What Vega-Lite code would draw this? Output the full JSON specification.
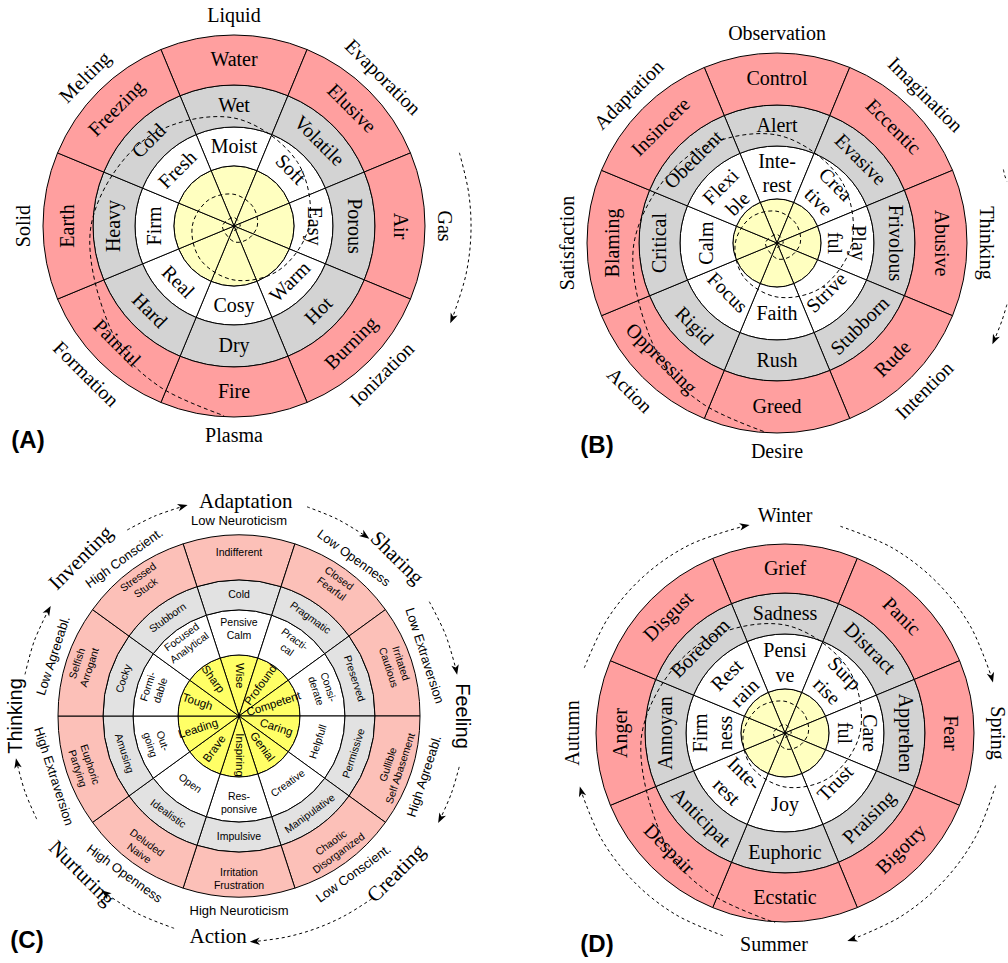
{
"$schema":"https://vega.github.io/schema/vega-lite/v6.json",
"padding":0,
"background":"white",
"config":{"view":{"stroke":null}},
"columns":2,
"spacing":{"row":17,"column":84},
"bounds":"flush",
"align":"each",
"resolve":{"scale":{"color":"independent","angle":"independent"}},
"datasets":{
"sa":[
{"ring":"Y","t":0,"t0":-22.5,"t1":22.5,"r0":0,"r1":1,"rl":0.5,"lab":""},
{"ring":"Y","t":45,"t0":22.5,"t1":67.5,"r0":0,"r1":1,"rl":0.5,"lab":""},
{"ring":"Y","t":90,"t0":67.5,"t1":112.5,"r0":0,"r1":1,"rl":0.5,"lab":""},
{"ring":"Y","t":135,"t0":112.5,"t1":157.5,"r0":0,"r1":1,"rl":0.5,"lab":""},
{"ring":"Y","t":180,"t0":157.5,"t1":202.5,"r0":0,"r1":1,"rl":0.5,"lab":""},
{"ring":"Y","t":225,"t0":202.5,"t1":247.5,"r0":0,"r1":1,"rl":0.5,"lab":""},
{"ring":"Y","t":270,"t0":247.5,"t1":292.5,"r0":0,"r1":1,"rl":0.5,"lab":""},
{"ring":"Y","t":315,"t0":292.5,"t1":337.5,"r0":0,"r1":1,"rl":0.5,"lab":""},
{"ring":"W","t":0,"t0":-22.5,"t1":22.5,"r0":1,"r1":2,"rl":1.5,"lab":"Moist"},
{"ring":"W","t":45,"t0":22.5,"t1":67.5,"r0":1,"r1":2,"rl":1.5,"lab":"Soft"},
{"ring":"W","t":90,"t0":67.5,"t1":112.5,"r0":1,"r1":2,"rl":1.5,"lab":"Easy"},
{"ring":"W","t":135,"t0":112.5,"t1":157.5,"r0":1,"r1":2,"rl":1.5,"lab":"Warm"},
{"ring":"W","t":180,"t0":157.5,"t1":202.5,"r0":1,"r1":2,"rl":1.5,"lab":"Cosy"},
{"ring":"W","t":225,"t0":202.5,"t1":247.5,"r0":1,"r1":2,"rl":1.5,"lab":"Real"},
{"ring":"W","t":270,"t0":247.5,"t1":292.5,"r0":1,"r1":2,"rl":1.5,"lab":"Firm"},
{"ring":"W","t":315,"t0":292.5,"t1":337.5,"r0":1,"r1":2,"rl":1.5,"lab":"Fresh"},
{"ring":"G","t":0,"t0":-22.5,"t1":22.5,"r0":2,"r1":3,"rl":2.5,"lab":"Wet"},
{"ring":"G","t":45,"t0":22.5,"t1":67.5,"r0":2,"r1":3,"rl":2.5,"lab":"Volatile"},
{"ring":"G","t":90,"t0":67.5,"t1":112.5,"r0":2,"r1":3,"rl":2.5,"lab":"Porous"},
{"ring":"G","t":135,"t0":112.5,"t1":157.5,"r0":2,"r1":3,"rl":2.5,"lab":"Hot"},
{"ring":"G","t":180,"t0":157.5,"t1":202.5,"r0":2,"r1":3,"rl":2.5,"lab":"Dry"},
{"ring":"G","t":225,"t0":202.5,"t1":247.5,"r0":2,"r1":3,"rl":2.5,"lab":"Hard"},
{"ring":"G","t":270,"t0":247.5,"t1":292.5,"r0":2,"r1":3,"rl":2.5,"lab":"Heavy"},
{"ring":"G","t":315,"t0":292.5,"t1":337.5,"r0":2,"r1":3,"rl":2.5,"lab":"Cold"},
{"ring":"R","t":0,"t0":-22.5,"t1":22.5,"r0":3,"r1":4,"rl":3.5,"lab":"Water"},
{"ring":"R","t":45,"t0":22.5,"t1":67.5,"r0":3,"r1":4,"rl":3.5,"lab":"Elusive"},
{"ring":"R","t":90,"t0":67.5,"t1":112.5,"r0":3,"r1":4,"rl":3.5,"lab":"Air"},
{"ring":"R","t":135,"t0":112.5,"t1":157.5,"r0":3,"r1":4,"rl":3.5,"lab":"Burning"},
{"ring":"R","t":180,"t0":157.5,"t1":202.5,"r0":3,"r1":4,"rl":3.5,"lab":"Fire"},
{"ring":"R","t":225,"t0":202.5,"t1":247.5,"r0":3,"r1":4,"rl":3.5,"lab":"Painful"},
{"ring":"R","t":270,"t0":247.5,"t1":292.5,"r0":3,"r1":4,"rl":3.5,"lab":"Earth"},
{"ring":"R","t":315,"t0":292.5,"t1":337.5,"r0":3,"r1":4,"rl":3.5,"lab":"Freezing"},
{"ring":"O","t":0,"rl":5,"lab":"Liquid"},
{"ring":"O","t":45,"rl":5,"lab":"Evaporation"},
{"ring":"O","t":90,"rl":5,"lab":"Gas"},
{"ring":"O","t":135,"rl":5,"lab":"Ionization"},
{"ring":"O","t":180,"rl":5,"lab":"Plasma"},
{"ring":"O","t":225,"rl":5,"lab":"Formation"},
{"ring":"O","t":270,"rl":5,"lab":"Solid"},
{"ring":"O","t":315,"rl":5,"lab":"Melting"}
],
"sb":[
{"ring":"Y","t":0,"t0":-22.5,"t1":22.5,"r0":0,"r1":1,"rl":0.5,"lab":""},
{"ring":"Y","t":45,"t0":22.5,"t1":67.5,"r0":0,"r1":1,"rl":0.5,"lab":""},
{"ring":"Y","t":90,"t0":67.5,"t1":112.5,"r0":0,"r1":1,"rl":0.5,"lab":""},
{"ring":"Y","t":135,"t0":112.5,"t1":157.5,"r0":0,"r1":1,"rl":0.5,"lab":""},
{"ring":"Y","t":180,"t0":157.5,"t1":202.5,"r0":0,"r1":1,"rl":0.5,"lab":""},
{"ring":"Y","t":225,"t0":202.5,"t1":247.5,"r0":0,"r1":1,"rl":0.5,"lab":""},
{"ring":"Y","t":270,"t0":247.5,"t1":292.5,"r0":0,"r1":1,"rl":0.5,"lab":""},
{"ring":"Y","t":315,"t0":292.5,"t1":337.5,"r0":0,"r1":1,"rl":0.5,"lab":""},
{"ring":"W","t":0,"t0":-22.5,"t1":22.5,"r0":1,"r1":2,"rl":1.7,"lab":"Inte-\nrest"},
{"ring":"W","t":45,"t0":22.5,"t1":67.5,"r0":1,"r1":2,"rl":1.72,"lab":"Crea\ntive"},
{"ring":"W","t":90,"t0":67.5,"t1":112.5,"r0":1,"r1":2,"rl":1.7,"lab":"Play\nful"},
{"ring":"W","t":135,"t0":112.5,"t1":157.5,"r0":1,"r1":2,"rl":1.5,"lab":"Strive"},
{"ring":"W","t":180,"t0":157.5,"t1":202.5,"r0":1,"r1":2,"rl":1.5,"lab":"Faith"},
{"ring":"W","t":225,"t0":202.5,"t1":247.5,"r0":1,"r1":2,"rl":1.5,"lab":"Focus"},
{"ring":"W","t":270,"t0":247.5,"t1":292.5,"r0":1,"r1":2,"rl":1.5,"lab":"Calm"},
{"ring":"W","t":315,"t0":292.5,"t1":337.5,"r0":1,"r1":2,"rl":1.66,"lab":"Flexi\nble"},
{"ring":"G","t":0,"t0":-22.5,"t1":22.5,"r0":2,"r1":3,"rl":2.5,"lab":"Alert"},
{"ring":"G","t":45,"t0":22.5,"t1":67.5,"r0":2,"r1":3,"rl":2.5,"lab":"Evasive"},
{"ring":"G","t":90,"t0":67.5,"t1":112.5,"r0":2,"r1":3,"rl":2.5,"lab":"Frivolous"},
{"ring":"G","t":135,"t0":112.5,"t1":157.5,"r0":2,"r1":3,"rl":2.5,"lab":"Stubborn"},
{"ring":"G","t":180,"t0":157.5,"t1":202.5,"r0":2,"r1":3,"rl":2.5,"lab":"Rush"},
{"ring":"G","t":225,"t0":202.5,"t1":247.5,"r0":2,"r1":3,"rl":2.5,"lab":"Rigid"},
{"ring":"G","t":270,"t0":247.5,"t1":292.5,"r0":2,"r1":3,"rl":2.5,"lab":"Critical"},
{"ring":"G","t":315,"t0":292.5,"t1":337.5,"r0":2,"r1":3,"rl":2.5,"lab":"Obedient"},
{"ring":"R","t":0,"t0":-22.5,"t1":22.5,"r0":3,"r1":4,"rl":3.5,"lab":"Control"},
{"ring":"R","t":45,"t0":22.5,"t1":67.5,"r0":3,"r1":4,"rl":3.5,"lab":"Eccentic"},
{"ring":"R","t":90,"t0":67.5,"t1":112.5,"r0":3,"r1":4,"rl":3.5,"lab":"Abusive"},
{"ring":"R","t":135,"t0":112.5,"t1":157.5,"r0":3,"r1":4,"rl":3.5,"lab":"Rude"},
{"ring":"R","t":180,"t0":157.5,"t1":202.5,"r0":3,"r1":4,"rl":3.5,"lab":"Greed"},
{"ring":"R","t":225,"t0":202.5,"t1":247.5,"r0":3,"r1":4,"rl":3.5,"lab":"Oppressing"},
{"ring":"R","t":270,"t0":247.5,"t1":292.5,"r0":3,"r1":4,"rl":3.5,"lab":"Blaming"},
{"ring":"R","t":315,"t0":292.5,"t1":337.5,"r0":3,"r1":4,"rl":3.5,"lab":"Insincere"},
{"ring":"O","t":0,"rl":5,"lab":"Observation"},
{"ring":"O","t":45,"rl":5,"lab":"Imagination"},
{"ring":"O","t":90,"rl":5,"lab":"Thinking"},
{"ring":"O","t":135,"rl":5,"lab":"Intention"},
{"ring":"O","t":180,"rl":5,"lab":"Desire"},
{"ring":"O","t":225,"rl":5,"lab":"Action"},
{"ring":"O","t":270,"rl":5,"lab":"Satisfaction"},
{"ring":"O","t":315,"rl":5,"lab":"Adaptation"}
],
"sd":[
{"ring":"Y","t":0,"t0":-22.5,"t1":22.5,"r0":0,"r1":1,"rl":0.5,"lab":""},
{"ring":"Y","t":45,"t0":22.5,"t1":67.5,"r0":0,"r1":1,"rl":0.5,"lab":""},
{"ring":"Y","t":90,"t0":67.5,"t1":112.5,"r0":0,"r1":1,"rl":0.5,"lab":""},
{"ring":"Y","t":135,"t0":112.5,"t1":157.5,"r0":0,"r1":1,"rl":0.5,"lab":""},
{"ring":"Y","t":180,"t0":157.5,"t1":202.5,"r0":0,"r1":1,"rl":0.5,"lab":""},
{"ring":"Y","t":225,"t0":202.5,"t1":247.5,"r0":0,"r1":1,"rl":0.5,"lab":""},
{"ring":"Y","t":270,"t0":247.5,"t1":292.5,"r0":0,"r1":1,"rl":0.5,"lab":""},
{"ring":"Y","t":315,"t0":292.5,"t1":337.5,"r0":0,"r1":1,"rl":0.5,"lab":""},
{"ring":"W","t":0,"t0":-22.5,"t1":22.5,"r0":1,"r1":2,"rl":1.69,"lab":"Pensi\nve"},
{"ring":"W","t":45,"t0":22.5,"t1":67.5,"r0":1,"r1":2,"rl":1.72,"lab":"Surp\nrise"},
{"ring":"W","t":90,"t0":67.5,"t1":112.5,"r0":1,"r1":2,"rl":1.72,"lab":"Care\nful"},
{"ring":"W","t":135,"t0":112.5,"t1":157.5,"r0":1,"r1":2,"rl":1.5,"lab":"Trust"},
{"ring":"W","t":180,"t0":157.5,"t1":202.5,"r0":1,"r1":2,"rl":1.5,"lab":"Joy"},
{"ring":"W","t":225,"t0":202.5,"t1":247.5,"r0":1,"r1":2,"rl":1.26,"lab":"Inte-\nrest"},
{"ring":"W","t":270,"t0":247.5,"t1":292.5,"r0":1,"r1":2,"rl":1.72,"lab":"Firm\nness"},
{"ring":"W","t":315,"t0":292.5,"t1":337.5,"r0":1,"r1":2,"rl":1.68,"lab":"Rest\nrain"},
{"ring":"G","t":0,"t0":-22.5,"t1":22.5,"r0":2,"r1":3,"rl":2.5,"lab":"Sadness"},
{"ring":"G","t":45,"t0":22.5,"t1":67.5,"r0":2,"r1":3,"rl":2.5,"lab":"Distract"},
{"ring":"G","t":90,"t0":67.5,"t1":112.5,"r0":2,"r1":3,"rl":2.5,"lab":"Apprehen"},
{"ring":"G","t":135,"t0":112.5,"t1":157.5,"r0":2,"r1":3,"rl":2.5,"lab":"Praising"},
{"ring":"G","t":180,"t0":157.5,"t1":202.5,"r0":2,"r1":3,"rl":2.5,"lab":"Euphoric"},
{"ring":"G","t":225,"t0":202.5,"t1":247.5,"r0":2,"r1":3,"rl":2.5,"lab":"Anticipat"},
{"ring":"G","t":270,"t0":247.5,"t1":292.5,"r0":2,"r1":3,"rl":2.5,"lab":"Annoyan"},
{"ring":"G","t":315,"t0":292.5,"t1":337.5,"r0":2,"r1":3,"rl":2.5,"lab":"Boredom"},
{"ring":"R","t":0,"t0":-22.5,"t1":22.5,"r0":3,"r1":4,"rl":3.5,"lab":"Grief"},
{"ring":"R","t":45,"t0":22.5,"t1":67.5,"r0":3,"r1":4,"rl":3.5,"lab":"Panic"},
{"ring":"R","t":90,"t0":67.5,"t1":112.5,"r0":3,"r1":4,"rl":3.5,"lab":"Fear"},
{"ring":"R","t":135,"t0":112.5,"t1":157.5,"r0":3,"r1":4,"rl":3.5,"lab":"Bigotry"},
{"ring":"R","t":180,"t0":157.5,"t1":202.5,"r0":3,"r1":4,"rl":3.5,"lab":"Ecstatic"},
{"ring":"R","t":225,"t0":202.5,"t1":247.5,"r0":3,"r1":4,"rl":3.5,"lab":"Despair"},
{"ring":"R","t":270,"t0":247.5,"t1":292.5,"r0":3,"r1":4,"rl":3.5,"lab":"Anger"},
{"ring":"R","t":315,"t0":292.5,"t1":337.5,"r0":3,"r1":4,"rl":3.5,"lab":"Disgust"},
{"ring":"H","t":0,"rl":5.2,"lab":"Winter"},
{"ring":"O","t":90,"rl":5,"lab":"Spring"},
{"ring":"H","t":183,"rl":5,"lab":"Summer"},
{"ring":"O","t":270,"rl":5,"lab":"Autumn"}
],
"sc":[
{"ring":"Y","t":0,"t0":-18,"t1":18,"r0":0,"r1":1,"rl":0.66,"lab":"Wise"},
{"ring":"Y","t":36,"t0":18,"t1":54,"r0":0,"r1":1,"rl":0.62,"lab":"Profound"},
{"ring":"Y","t":72,"t0":54,"t1":90,"r0":0,"r1":1,"rl":0.6,"lab":"Competent"},
{"ring":"Y","t":108,"t0":90,"t1":126,"r0":0,"r1":1,"rl":0.64,"lab":"Caring"},
{"ring":"Y","t":144,"t0":126,"t1":162,"r0":0,"r1":1,"rl":0.63,"lab":"Genial"},
{"ring":"Y","t":180,"t0":162,"t1":198,"r0":0,"r1":1,"rl":0.64,"lab":"Inspiring"},
{"ring":"Y","t":216,"t0":198,"t1":234,"r0":0,"r1":1,"rl":0.67,"lab":"Brave"},
{"ring":"Y","t":252,"t0":234,"t1":270,"r0":0,"r1":1,"rl":0.7,"lab":"Leading"},
{"ring":"Y","t":288,"t0":270,"t1":306,"r0":0,"r1":1,"rl":0.72,"lab":"Tough"},
{"ring":"Y","t":324,"t0":306,"t1":342,"r0":0,"r1":1,"rl":0.74,"lab":"Sharp"},
{"ring":"W","t":0,"t0":-18,"t1":18,"r0":1,"r1":2,"rl":1.72,"lab":"Pensive\nCalm"},
{"ring":"W","t":36,"t0":18,"t1":54,"r0":1,"r1":2,"rl":1.74,"lab":"Practi-\ncal"},
{"ring":"W","t":72,"t0":54,"t1":90,"r0":1,"r1":2,"rl":1.72,"lab":"Consi-\nderate"},
{"ring":"W","t":108,"t0":90,"t1":126,"r0":1,"r1":2,"rl":1.5,"lab":"Helpfull"},
{"ring":"W","t":144,"t0":126,"t1":162,"r0":1,"r1":2,"rl":1.5,"lab":"Creative"},
{"ring":"W","t":180,"t0":162,"t1":198,"r0":1,"r1":2,"rl":1.44,"lab":"Res-\nponsive"},
{"ring":"W","t":216,"t0":198,"t1":234,"r0":1,"r1":2,"rl":1.5,"lab":"Open"},
{"ring":"W","t":252,"t0":234,"t1":270,"r0":1,"r1":2,"rl":1.44,"lab":"Out-\ngoing"},
{"ring":"W","t":288,"t0":270,"t1":306,"r0":1,"r1":2,"rl":1.76,"lab":"Formi-\ndable"},
{"ring":"W","t":324,"t0":306,"t1":342,"r0":1,"r1":2,"rl":1.8,"lab":"Focused\nAnalytical"},
{"ring":"G","t":0,"t0":-18,"t1":18,"r0":2,"r1":3,"rl":2.5,"lab":"Cold"},
{"ring":"G","t":36,"t0":18,"t1":54,"r0":2,"r1":3,"rl":2.5,"lab":"Pragmatic"},
{"ring":"G","t":72,"t0":54,"t1":90,"r0":2,"r1":3,"rl":2.5,"lab":"Preserved"},
{"ring":"G","t":108,"t0":90,"t1":126,"r0":2,"r1":3,"rl":2.5,"lab":"Permissive"},
{"ring":"G","t":144,"t0":126,"t1":162,"r0":2,"r1":3,"rl":2.5,"lab":"Manipulative"},
{"ring":"G","t":180,"t0":162,"t1":198,"r0":2,"r1":3,"rl":2.5,"lab":"Impulsive"},
{"ring":"G","t":216,"t0":198,"t1":234,"r0":2,"r1":3,"rl":2.5,"lab":"Idealistic"},
{"ring":"G","t":252,"t0":234,"t1":270,"r0":2,"r1":3,"rl":2.5,"lab":"Amusing"},
{"ring":"G","t":288,"t0":270,"t1":306,"r0":2,"r1":3,"rl":2.5,"lab":"Cocky"},
{"ring":"G","t":324,"t0":306,"t1":342,"r0":2,"r1":3,"rl":2.5,"lab":"Stubborn"},
{"ring":"R","t":0,"t0":-18,"t1":18,"r0":3,"r1":4,"rl":3.6,"lab":"Indifferent"},
{"ring":"R","t":36,"t0":18,"t1":54,"r0":3,"r1":4,"rl":3.75,"lab":"Closed\nFearful"},
{"ring":"R","t":72,"t0":54,"t1":90,"r0":3,"r1":4,"rl":3.75,"lab":"Irritated\nCautious"},
{"ring":"R","t":108,"t0":90,"t1":126,"r0":3,"r1":4,"rl":3.47,"lab":"Gullible\nSelf Abasement"},
{"ring":"R","t":144,"t0":126,"t1":162,"r0":3,"r1":4,"rl":3.47,"lab":"Chaotic\nDisorganized"},
{"ring":"R","t":180,"t0":162,"t1":198,"r0":3,"r1":4,"rl":3.47,"lab":"Irritation\nFrustration"},
{"ring":"R","t":216,"t0":198,"t1":234,"r0":3,"r1":4,"rl":3.47,"lab":"Deluded\nNaive"},
{"ring":"R","t":252,"t0":234,"t1":270,"r0":3,"r1":4,"rl":3.47,"lab":"Euphoric\nPartying"},
{"ring":"R","t":288,"t0":270,"t1":306,"r0":3,"r1":4,"rl":3.75,"lab":"Selfish\nArrogant"},
{"ring":"R","t":324,"t0":306,"t1":342,"r0":3,"r1":4,"rl":3.78,"lab":"Stressed\nStuck"},
{"ring":"O","t":0,"rl":5,"lab":"Low Neuroticism"},
{"ring":"O","t":36,"rl":5,"lab":"Low Openness"},
{"ring":"O","t":72,"rl":5,"lab":"Low Extraversion"},
{"ring":"O","t":108,"rl":5,"lab":"High Agreeabl."},
{"ring":"O","t":144,"rl":5,"lab":"Low Conscient."},
{"ring":"O","t":180,"rl":5,"lab":"High Neuroticism"},
{"ring":"O","t":216,"rl":5,"lab":"High Openness"},
{"ring":"O","t":252,"rl":5,"lab":"High Extraversion"},
{"ring":"O","t":288,"rl":5,"lab":"Low Agreeabl."},
{"ring":"O","t":324,"rl":5,"lab":"High Conscient."},
{"ring":"H","t":1.8,"rl":5.68,"lab":"Adaptation"},
{"ring":"B","t":45,"rl":6,"lab":"Sharing"},
{"ring":"S","t":90,"rl":6,"lab":"Feeling"},
{"ring":"B","t":135,"rl":6,"lab":"Creating"},
{"ring":"H","t":185.4,"rl":5.95,"lab":"Action"},
{"ring":"B","t":225,"rl":6,"lab":"Nurturing"},
{"ring":"S","t":270,"rl":6,"lab":"Thinking"},
{"ring":"B","t":315,"rl":6,"lab":"Inventing"}
],
"spiral":[
{"i":1,"dx":0,"dy":4.6},{"i":2,"dx":6.2,"dy":0},{"i":3,"dx":0,"dy":-8.5},{"i":4,"dx":-11.5,"dy":0},
{"i":5,"dx":0,"dy":15.7},{"i":6,"dx":13.4,"dy":13.4},{"i":7,"dx":23.3,"dy":0},{"i":8,"dx":19.1,"dy":-19.1},
{"i":9,"dx":0,"dy":-31.7},{"i":10,"dx":-25.8,"dy":-25.8},{"i":11,"dx":-41.7,"dy":0},{"i":12,"dx":-33.6,"dy":33.6},
{"i":13,"dx":0,"dy":54},{"i":14,"dx":44.5,"dy":44.5},{"i":15,"dx":75,"dy":0},{"i":16,"dx":63.6,"dy":-63.6},
{"i":17,"dx":0,"dy":-108},{"i":18,"dx":-87.7,"dy":-87.7},{"i":19,"dx":-143,"dy":0},{"i":20,"dx":-116.7,"dy":116.7},
{"i":21,"dx":-74.8,"dy":160.4},{"i":22,"dx":-9.9,"dy":189.7}
],
"aa":[
{"seg":1,"i":1,"t":72,"dx":225.4,"dy":-73.2},
{"seg":1,"i":2,"t":82,"dx":234.7,"dy":-33.0},
{"seg":1,"i":3,"t":92,"dx":236.9,"dy":8.3},
{"seg":1,"i":4,"t":102,"dx":231.8,"dy":49.3},
{"seg":1,"i":5,"t":113,"dx":218.2,"dy":92.6,"h":1}
],
"ab":[
{"seg":1,"i":1,"t":72,"dx":226.4,"dy":-73.5},
{"seg":1,"i":2,"t":73.5,"dx":227.7,"dy":-67.6},
{"seg":1,"i":3,"t":75,"dx":229.9,"dy":-61.6},
{"seg":2,"i":1,"t":105,"dx":229.9,"dy":61.6},
{"seg":2,"i":2,"t":109,"dx":225.0,"dy":77.5},
{"seg":2,"i":3,"t":114,"dx":217.4,"dy":96.8,"h":1}
],
"ac":[
{"seg":1,"i":1,"t":329,"dx":-111.8,"dy":-186.0},{"seg":1,"i":2,"t":337,"dx":-84.8,"dy":-199.7},{"seg":1,"i":3,"t":345,"dx":-56.2,"dy":-209.6,"h":1},
{"seg":2,"i":1,"t":18,"dx":68.0,"dy":-209.2},{"seg":2,"i":2,"t":26.5,"dx":98.2,"dy":-196.9},{"seg":2,"i":3,"t":35,"dx":126.2,"dy":-180.2,"h":1},
{"seg":3,"i":1,"t":59,"dx":190.3,"dy":-114.3},{"seg":3,"i":2,"t":68.5,"dx":206.5,"dy":-81.4},{"seg":3,"i":3,"t":78,"dx":217.1,"dy":-46.2,"h":1},
{"seg":4,"i":1,"t":103,"dx":220.2,"dy":50.9},{"seg":4,"i":2,"t":110,"dx":212.4,"dy":77.3},{"seg":4,"i":3,"t":117,"dx":201.4,"dy":102.6,"h":1},
{"seg":5,"i":1,"t":144,"dx":132.8,"dy":182.8},{"seg":5,"i":2,"t":152,"dx":106.1,"dy":199.5},{"seg":5,"i":3,"t":160,"dx":77.3,"dy":212.4},{"seg":5,"i":4,"t":168,"dx":47.0,"dy":221.1},{"seg":5,"i":5,"t":176,"dx":15.8,"dy":225.5,"h":1},
{"seg":6,"i":1,"t":197,"dx":-64.9,"dy":212.3},{"seg":6,"i":2,"t":207,"dx":-100.8,"dy":197.8},{"seg":6,"i":3,"t":217,"dx":-133.6,"dy":177.3,"h":1},
{"seg":7,"i":1,"t":243,"dx":-202.3,"dy":103.1},{"seg":7,"i":2,"t":250.5,"dx":-214.0,"dy":75.8},{"seg":7,"i":3,"t":258,"dx":-222.0,"dy":47.2,"h":1},
{"seg":8,"i":1,"t":281,"dx":-214.0,"dy":-41.6},{"seg":8,"i":2,"t":290,"dx":-204.9,"dy":-74.6},{"seg":8,"i":3,"t":299,"dx":-190.7,"dy":-105.7,"h":1}
],
"ad":[
{"seg":1,"i":1,"t":288,"dx":-200.7,"dy":-65.2},{"seg":1,"i":2,"t":303,"dx":-177.0,"dy":-114.9},{"seg":1,"i":3,"t":318,"dx":-141.2,"dy":-156.8},{"seg":1,"i":4,"t":333,"dx":-95.8,"dy":-188.0},{"seg":1,"i":5,"t":349,"dx":-40.3,"dy":-207.1,"h":1},
{"seg":2,"i":1,"t":15,"dx":55.4,"dy":-206.7},{"seg":2,"i":2,"t":30,"dx":107.0,"dy":-185.3},{"seg":2,"i":3,"t":45,"dx":151.3,"dy":-151.3},{"seg":2,"i":4,"t":60,"dx":185.3,"dy":-107.0},{"seg":2,"i":5,"t":75,"dx":206.7,"dy":-55.4,"h":1},
{"seg":3,"i":1,"t":104,"dx":210.6,"dy":52.5},{"seg":3,"i":2,"t":118.5,"dx":190.7,"dy":103.6},{"seg":3,"i":3,"t":133,"dx":158.7,"dy":148.0},{"seg":3,"i":4,"t":147.5,"dx":116.6,"dy":183.0},{"seg":3,"i":5,"t":162,"dx":67.1,"dy":206.4,"h":1},
{"seg":4,"i":1,"t":197,"dx":-62.0,"dy":202.7},{"seg":4,"i":2,"t":211,"dx":-109.2,"dy":181.7},{"seg":4,"i":3,"t":225,"dx":-149.9,"dy":149.9},{"seg":4,"i":4,"t":240,"dx":-183.6,"dy":106.0},{"seg":4,"i":5,"t":254,"dx":-203.8,"dy":58.4,"h":1}
]
},
"concat":[
{
"width":468,"height":452,
"resolve":{"scale":{"angle":"independent"}},
"layer":[
{"data":{"name":"sa"},"transform":[{"filter":"datum.r1 != null"}],"mark":{"type":"arc","stroke":"#000000","strokeWidth":1},
"encoding":{"theta":{"field":"t0","type":"quantitative","stack":null,"scale":{"domain":[0,360],"range":[0,6.283185307179586],"nice":false,"zero":false}},"theta2":{"field":"t1"},
"radius":{"field":"r1","type":"quantitative","scale":{"type":"linear","domain":[0,1,2,3,4,5],"range":[0,60,99,141,191,210],"nice":false,"zero":false}},"radius2":{"field":"r0"},
"color":{"field":"ring","type":"nominal","scale":{"domain":["Y","W","G","R"],"range":["#ffffc0","#ffffff","#d3d3d3","#ff9f9f"]},"legend":null}}},
{"data":{"name":"sa"},"transform":[{"filter":"datum.ring!='Y' && (datum.t<=90 || datum.t>=270)"}],"mark":{"type":"text","font":"Liberation Serif","fontSize":20,"lineBreak":"\n","lineHeight":22,"color":"#000000","align":"center","baseline":"middle"},
"encoding":{"theta":{"field":"t","type":"quantitative","stack":null,"scale":{"domain":[0,360],"range":[0,6.283185307179586],"nice":false,"zero":false}},
"radius":{"field":"rl","type":"quantitative","scale":{"type":"linear","domain":[0,1,2,3,4,5],"range":[0,60,99,141,191,210],"nice":false,"zero":false}},
"text":{"field":"lab","type":"nominal"},"angle":{"field":"t","type":"quantitative","scale":{"domain":[0,360],"range":[0,360]}}}},
{"data":{"name":"sa"},"transform":[{"filter":"datum.ring!='Y' && datum.t>90 && datum.t<270"}],"mark":{"type":"text","font":"Liberation Serif","fontSize":20,"lineBreak":"\n","lineHeight":22,"color":"#000000","align":"center","baseline":"middle"},
"encoding":{"theta":{"field":"t","type":"quantitative","stack":null,"scale":{"domain":[0,360],"range":[0,6.283185307179586],"nice":false,"zero":false}},
"radius":{"field":"rl","type":"quantitative","scale":{"type":"linear","domain":[0,1,2,3,4,5],"range":[0,60,99,141,191,210],"nice":false,"zero":false}},
"text":{"field":"lab","type":"nominal"},"angle":{"field":"t","type":"quantitative","scale":{"domain":[0,360],"range":[180,540]}}}},
{"data":{"name":"spiral"},"mark":{"type":"line","interpolate":"catmull-rom","strokeDash":[4,3],"color":"#000000","strokeWidth":1},
"encoding":{"x":{"field":"dx","type":"quantitative","scale":{"domain":[-234,234],"nice":false,"zero":false},"axis":null},"y":{"field":"dy","type":"quantitative","scale":{"domain":[-226,226],"reverse":true,"nice":false,"zero":false},"axis":null},"order":{"field":"i","type":"quantitative"}}},
{"data":{"name":"aa"},"mark":{"type":"line","interpolate":"catmull-rom","strokeDash":[3,3],"color":"#000000","strokeWidth":1},
"encoding":{"x":{"field":"dx","type":"quantitative","scale":{"domain":[-234,234],"nice":false,"zero":false},"axis":null},"y":{"field":"dy","type":"quantitative","scale":{"domain":[-226,226],"reverse":true,"nice":false,"zero":false},"axis":null},"order":{"field":"i","type":"quantitative"},"detail":{"field":"seg","type":"nominal"}}},
{"data":{"name":"aa"},"transform":[{"filter":"datum.h==1"}],"mark":{"type":"point","shape":"M0,1L-0.75,-1L0,-0.45L0.75,-1Z","filled":true,"color":"#000000","opacity":1,"size":100,"strokeWidth":0},
"encoding":{"x":{"field":"dx","type":"quantitative","scale":{"domain":[-234,234],"nice":false,"zero":false},"axis":null},"y":{"field":"dy","type":"quantitative","scale":{"domain":[-226,226],"reverse":true,"nice":false,"zero":false},"axis":null},"angle":{"field":"t","type":"quantitative","scale":{"domain":[0,360],"range":[-90,270]}}}},
{"data":{"values":[{"lab":"(A)","dx":-206,"dy":215}]},"mark":{"type":"text","font":"Liberation Sans","fontWeight":"bold","fontSize":24,"color":"#000000"},
"encoding":{"x":{"field":"dx","type":"quantitative","scale":{"domain":[-234,234],"nice":false,"zero":false},"axis":null},"y":{"field":"dy","type":"quantitative","scale":{"domain":[-226,226],"reverse":true,"nice":false,"zero":false},"axis":null},"text":{"field":"lab","type":"nominal"}}}
]
},
{
"width":430,"height":486,
"resolve":{"scale":{"angle":"independent"}},
"layer":[
{"data":{"name":"sb"},"transform":[{"filter":"datum.r1 != null"}],"mark":{"type":"arc","stroke":"#000000","strokeWidth":1},
"encoding":{"theta":{"field":"t0","type":"quantitative","stack":null,"scale":{"domain":[0,360],"range":[0,6.283185307179586],"nice":false,"zero":false}},"theta2":{"field":"t1"},
"radius":{"field":"r1","type":"quantitative","scale":{"type":"linear","domain":[0,1,2,3,4,5],"range":[0,44,97,138,190,209],"nice":false,"zero":false}},"radius2":{"field":"r0"},
"color":{"field":"ring","type":"nominal","scale":{"domain":["Y","W","G","R"],"range":["#ffffc0","#ffffff","#d3d3d3","#ff9f9f"]},"legend":null}}},
{"data":{"name":"sb"},"transform":[{"filter":"datum.ring!='Y' && (datum.t<=90 || datum.t>=270)"}],"mark":{"type":"text","font":"Liberation Serif","fontSize":20,"lineBreak":"\n","lineHeight":24,"color":"#000000","align":"center","baseline":"middle"},
"encoding":{"theta":{"field":"t","type":"quantitative","stack":null,"scale":{"domain":[0,360],"range":[0,6.283185307179586],"nice":false,"zero":false}},
"radius":{"field":"rl","type":"quantitative","scale":{"type":"linear","domain":[0,1,2,3,4,5],"range":[0,44,97,138,190,209],"nice":false,"zero":false}},
"text":{"field":"lab","type":"nominal"},"angle":{"field":"t","type":"quantitative","scale":{"domain":[0,360],"range":[0,360]}}}},
{"data":{"name":"sb"},"transform":[{"filter":"datum.ring!='Y' && datum.t>90 && datum.t<270"}],"mark":{"type":"text","font":"Liberation Serif","fontSize":20,"lineBreak":"\n","lineHeight":24,"color":"#000000","align":"center","baseline":"middle"},
"encoding":{"theta":{"field":"t","type":"quantitative","stack":null,"scale":{"domain":[0,360],"range":[0,6.283185307179586],"nice":false,"zero":false}},
"radius":{"field":"rl","type":"quantitative","scale":{"type":"linear","domain":[0,1,2,3,4,5],"range":[0,44,97,138,190,209],"nice":false,"zero":false}},
"text":{"field":"lab","type":"nominal"},"angle":{"field":"t","type":"quantitative","scale":{"domain":[0,360],"range":[180,540]}}}},
{"data":{"name":"spiral"},"mark":{"type":"line","interpolate":"catmull-rom","strokeDash":[4,3],"color":"#000000","strokeWidth":1},
"encoding":{"x":{"field":"dx","type":"quantitative","scale":{"domain":[-215,215],"nice":false,"zero":false},"axis":null},"y":{"field":"dy","type":"quantitative","scale":{"domain":[-243,243],"reverse":true,"nice":false,"zero":false},"axis":null},"order":{"field":"i","type":"quantitative"}}},
{"data":{"name":"ab"},"mark":{"type":"line","interpolate":"catmull-rom","strokeDash":[3,3],"color":"#000000","strokeWidth":1},
"encoding":{"x":{"field":"dx","type":"quantitative","scale":{"domain":[-215,215],"nice":false,"zero":false},"axis":null},"y":{"field":"dy","type":"quantitative","scale":{"domain":[-243,243],"reverse":true,"nice":false,"zero":false},"axis":null},"order":{"field":"i","type":"quantitative"},"detail":{"field":"seg","type":"nominal"}}},
{"data":{"name":"ab"},"transform":[{"filter":"datum.h==1"}],"mark":{"type":"point","shape":"M0,1L-0.75,-1L0,-0.45L0.75,-1Z","filled":true,"color":"#000000","opacity":1,"size":100,"strokeWidth":0},
"encoding":{"x":{"field":"dx","type":"quantitative","scale":{"domain":[-215,215],"nice":false,"zero":false},"axis":null},"y":{"field":"dy","type":"quantitative","scale":{"domain":[-243,243],"reverse":true,"nice":false,"zero":false},"axis":null},"angle":{"field":"t","type":"quantitative","scale":{"domain":[0,360],"range":[-90,270]}}}},
{"data":{"values":[{"lab":"(B)","dx":-180,"dy":203}]},"mark":{"type":"text","font":"Liberation Sans","fontWeight":"bold","fontSize":24,"color":"#000000"},
"encoding":{"x":{"field":"dx","type":"quantitative","scale":{"domain":[-215,215],"nice":false,"zero":false},"axis":null},"y":{"field":"dy","type":"quantitative","scale":{"domain":[-243,243],"reverse":true,"nice":false,"zero":false},"axis":null},"text":{"field":"lab","type":"nominal"}}}
]
},
{
"width":478,"height":426,
"resolve":{"scale":{"angle":"independent"}},
"layer":[
{"data":{"name":"sc"},"transform":[{"filter":"datum.r1 != null"}],"mark":{"type":"arc","stroke":"#000000","strokeWidth":1},
"encoding":{"theta":{"field":"t0","type":"quantitative","stack":null,"scale":{"domain":[0,360],"range":[0,6.283185307179586],"nice":false,"zero":false}},"theta2":{"field":"t1"},
"radius":{"field":"r1","type":"quantitative","scale":{"type":"linear","domain":[0,1,2,3,4,5,6],"range":[0,61,106,136,181,195,223],"nice":false,"zero":false}},"radius2":{"field":"r0"},
"color":{"field":"ring","type":"nominal","scale":{"domain":["Y","W","G","R"],"range":["#ffff66","#ffffff","#e2e2e2","#fcc0b8"]},"legend":null}}},
{"data":{"name":"sc"},"transform":[{"filter":"(datum.ring=='W' || datum.ring=='G' || datum.ring=='R') && (datum.t<=90 || datum.t>=270)"}],"mark":{"type":"text","font":"Liberation Sans","fontSize":10.5,"lineBreak":"\n","lineHeight":13,"color":"#000000","align":"center","baseline":"middle"},
"encoding":{"theta":{"field":"t","type":"quantitative","stack":null,"scale":{"domain":[0,360],"range":[0,6.283185307179586],"nice":false,"zero":false}},
"radius":{"field":"rl","type":"quantitative","scale":{"type":"linear","domain":[0,1,2,3,4,5,6],"range":[0,61,106,136,181,195,223],"nice":false,"zero":false}},
"text":{"field":"lab","type":"nominal"},"angle":{"field":"t","type":"quantitative","scale":{"domain":[0,360],"range":[0,360]}}}},
{"data":{"name":"sc"},"transform":[{"filter":"(datum.ring=='W' || datum.ring=='G' || datum.ring=='R') && datum.t>90 && datum.t<270"}],"mark":{"type":"text","font":"Liberation Sans","fontSize":10.5,"lineBreak":"\n","lineHeight":13,"color":"#000000","align":"center","baseline":"middle"},
"encoding":{"theta":{"field":"t","type":"quantitative","stack":null,"scale":{"domain":[0,360],"range":[0,6.283185307179586],"nice":false,"zero":false}},
"radius":{"field":"rl","type":"quantitative","scale":{"type":"linear","domain":[0,1,2,3,4,5,6],"range":[0,61,106,136,181,195,223],"nice":false,"zero":false}},
"text":{"field":"lab","type":"nominal"},"angle":{"field":"t","type":"quantitative","scale":{"domain":[0,360],"range":[180,540]}}}},
{"data":{"name":"sc"},"transform":[{"filter":"datum.ring=='Y' && datum.t>0 && datum.t<=180"}],"mark":{"type":"text","font":"Liberation Sans","fontSize":11.5,"color":"#000000","align":"center","baseline":"middle"},
"encoding":{"theta":{"field":"t","type":"quantitative","stack":null,"scale":{"domain":[0,360],"range":[0,6.283185307179586],"nice":false,"zero":false}},
"radius":{"field":"rl","type":"quantitative","scale":{"type":"linear","domain":[0,1,2,3,4,5,6],"range":[0,61,106,136,181,195,223],"nice":false,"zero":false}},
"text":{"field":"lab","type":"nominal"},"angle":{"field":"t","type":"quantitative","scale":{"domain":[0,360],"range":[-90,270]}}}},
{"data":{"name":"sc"},"transform":[{"filter":"datum.ring=='Y' && (datum.t==0 || datum.t>180)"}],"mark":{"type":"text","font":"Liberation Sans","fontSize":11.5,"color":"#000000","align":"center","baseline":"middle"},
"encoding":{"theta":{"field":"t","type":"quantitative","stack":null,"scale":{"domain":[0,360],"range":[0,6.283185307179586],"nice":false,"zero":false}},
"radius":{"field":"rl","type":"quantitative","scale":{"type":"linear","domain":[0,1,2,3,4,5,6],"range":[0,61,106,136,181,195,223],"nice":false,"zero":false}},
"text":{"field":"lab","type":"nominal"},"angle":{"field":"t","type":"quantitative","scale":{"domain":[0,360],"range":[90,450]}}}},
{"data":{"name":"sc"},"transform":[{"filter":"datum.ring=='O' && (datum.t<=90 || datum.t>=270)"}],"mark":{"type":"text","font":"Liberation Sans","fontSize":13,"color":"#000000","align":"center","baseline":"middle"},
"encoding":{"theta":{"field":"t","type":"quantitative","stack":null,"scale":{"domain":[0,360],"range":[0,6.283185307179586],"nice":false,"zero":false}},
"radius":{"field":"rl","type":"quantitative","scale":{"type":"linear","domain":[0,1,2,3,4,5,6],"range":[0,61,106,136,181,195,223],"nice":false,"zero":false}},
"text":{"field":"lab","type":"nominal"},"angle":{"field":"t","type":"quantitative","scale":{"domain":[0,360],"range":[0,360]}}}},
{"data":{"name":"sc"},"transform":[{"filter":"datum.ring=='O' && datum.t>90 && datum.t<270"}],"mark":{"type":"text","font":"Liberation Sans","fontSize":13,"color":"#000000","align":"center","baseline":"middle"},
"encoding":{"theta":{"field":"t","type":"quantitative","stack":null,"scale":{"domain":[0,360],"range":[0,6.283185307179586],"nice":false,"zero":false}},
"radius":{"field":"rl","type":"quantitative","scale":{"type":"linear","domain":[0,1,2,3,4,5,6],"range":[0,61,106,136,181,195,223],"nice":false,"zero":false}},
"text":{"field":"lab","type":"nominal"},"angle":{"field":"t","type":"quantitative","scale":{"domain":[0,360],"range":[180,540]}}}},
{"data":{"name":"sc"},"transform":[{"filter":"datum.ring=='B' && (datum.t<=90 || datum.t>=270)"}],"mark":{"type":"text","font":"Liberation Serif","fontSize":21,"color":"#000000","align":"center","baseline":"middle"},
"encoding":{"theta":{"field":"t","type":"quantitative","stack":null,"scale":{"domain":[0,360],"range":[0,6.283185307179586],"nice":false,"zero":false}},
"radius":{"field":"rl","type":"quantitative","scale":{"type":"linear","domain":[0,1,2,3,4,5,6],"range":[0,61,106,136,181,195,223],"nice":false,"zero":false}},
"text":{"field":"lab","type":"nominal"},"angle":{"field":"t","type":"quantitative","scale":{"domain":[0,360],"range":[0,360]}}}},
{"data":{"name":"sc"},"transform":[{"filter":"datum.ring=='B' && datum.t>90 && datum.t<270"}],"mark":{"type":"text","font":"Liberation Serif","fontSize":21,"color":"#000000","align":"center","baseline":"middle"},
"encoding":{"theta":{"field":"t","type":"quantitative","stack":null,"scale":{"domain":[0,360],"range":[0,6.283185307179586],"nice":false,"zero":false}},
"radius":{"field":"rl","type":"quantitative","scale":{"type":"linear","domain":[0,1,2,3,4,5,6],"range":[0,61,106,136,181,195,223],"nice":false,"zero":false}},
"text":{"field":"lab","type":"nominal"},"angle":{"field":"t","type":"quantitative","scale":{"domain":[0,360],"range":[180,540]}}}},
{"data":{"name":"sc"},"transform":[{"filter":"datum.ring=='H'"}],"mark":{"type":"text","font":"Liberation Serif","fontSize":21,"color":"#000000","align":"center","baseline":"middle"},
"encoding":{"theta":{"field":"t","type":"quantitative","stack":null,"scale":{"domain":[0,360],"range":[0,6.283185307179586],"nice":false,"zero":false}},
"radius":{"field":"rl","type":"quantitative","scale":{"type":"linear","domain":[0,1,2,3,4,5,6],"range":[0,61,106,136,181,195,223],"nice":false,"zero":false}},
"text":{"field":"lab","type":"nominal"}}},
{"data":{"name":"sc"},"transform":[{"filter":"datum.ring=='S'"}],"mark":{"type":"text","font":"Liberation Sans","fontSize":20,"color":"#000000","align":"center","baseline":"middle"},
"encoding":{"theta":{"field":"t","type":"quantitative","stack":null,"scale":{"domain":[0,360],"range":[0,6.283185307179586],"nice":false,"zero":false}},
"radius":{"field":"rl","type":"quantitative","scale":{"type":"linear","domain":[0,1,2,3,4,5,6],"range":[0,61,106,136,181,195,223],"nice":false,"zero":false}},
"text":{"field":"lab","type":"nominal"},"angle":{"field":"t","type":"quantitative","scale":{"domain":[0,360],"range":[0,360]}}}},
{"data":{"name":"ac"},"mark":{"type":"line","interpolate":"catmull-rom","strokeDash":[3,3],"color":"#000000","strokeWidth":1},
"encoding":{"x":{"field":"dx","type":"quantitative","scale":{"domain":[-239,239],"nice":false,"zero":false},"axis":null},"y":{"field":"dy","type":"quantitative","scale":{"domain":[-213,213],"reverse":true,"nice":false,"zero":false},"axis":null},"order":{"field":"i","type":"quantitative"},"detail":{"field":"seg","type":"nominal"}}},
{"data":{"name":"ac"},"transform":[{"filter":"datum.h==1"}],"mark":{"type":"point","shape":"M0,1L-0.75,-1L0,-0.45L0.75,-1Z","filled":true,"color":"#000000","opacity":1,"size":100,"strokeWidth":0},
"encoding":{"x":{"field":"dx","type":"quantitative","scale":{"domain":[-239,239],"nice":false,"zero":false},"axis":null},"y":{"field":"dy","type":"quantitative","scale":{"domain":[-213,213],"reverse":true,"nice":false,"zero":false},"axis":null},"angle":{"field":"t","type":"quantitative","scale":{"domain":[0,360],"range":[-90,270]}}}},
{"data":{"values":[{"lab":"(C)","dx":-212,"dy":225}]},"mark":{"type":"text","font":"Liberation Sans","fontWeight":"bold","fontSize":24,"color":"#000000"},
"encoding":{"x":{"field":"dx","type":"quantitative","scale":{"domain":[-239,239],"nice":false,"zero":false},"axis":null},"y":{"field":"dy","type":"quantitative","scale":{"domain":[-213,213],"reverse":true,"nice":false,"zero":false},"axis":null},"text":{"field":"lab","type":"nominal"}}}
]
},
{
"width":446,"height":460,
"resolve":{"scale":{"angle":"independent"}},
"layer":[
{"data":{"name":"sd"},"transform":[{"filter":"datum.r1 != null"}],"mark":{"type":"arc","stroke":"#000000","strokeWidth":1},
"encoding":{"theta":{"field":"t0","type":"quantitative","stack":null,"scale":{"domain":[0,360],"range":[0,6.283185307179586],"nice":false,"zero":false}},"theta2":{"field":"t1"},
"radius":{"field":"r1","type":"quantitative","scale":{"type":"linear","domain":[0,1,2,3,4,5],"range":[0,44,99,140,189,212],"nice":false,"zero":false}},"radius2":{"field":"r0"},
"color":{"field":"ring","type":"nominal","scale":{"domain":["Y","W","G","R"],"range":["#ffffc0","#ffffff","#d3d3d3","#ff9f9f"]},"legend":null}}},
{"data":{"name":"sd"},"transform":[{"filter":"datum.ring!='Y' && datum.ring!='H' && (datum.t<=90 || datum.t>=270)"}],"mark":{"type":"text","font":"Liberation Serif","fontSize":20,"lineBreak":"\n","lineHeight":25,"color":"#000000","align":"center","baseline":"middle"},
"encoding":{"theta":{"field":"t","type":"quantitative","stack":null,"scale":{"domain":[0,360],"range":[0,6.283185307179586],"nice":false,"zero":false}},
"radius":{"field":"rl","type":"quantitative","scale":{"type":"linear","domain":[0,1,2,3,4,5],"range":[0,44,99,140,189,212],"nice":false,"zero":false}},
"text":{"field":"lab","type":"nominal"},"angle":{"field":"t","type":"quantitative","scale":{"domain":[0,360],"range":[0,360]}}}},
{"data":{"name":"sd"},"transform":[{"filter":"datum.ring!='Y' && datum.ring!='H' && datum.t>90 && datum.t<270"}],"mark":{"type":"text","font":"Liberation Serif","fontSize":20,"lineBreak":"\n","lineHeight":25,"color":"#000000","align":"center","baseline":"middle"},
"encoding":{"theta":{"field":"t","type":"quantitative","stack":null,"scale":{"domain":[0,360],"range":[0,6.283185307179586],"nice":false,"zero":false}},
"radius":{"field":"rl","type":"quantitative","scale":{"type":"linear","domain":[0,1,2,3,4,5],"range":[0,44,99,140,189,212],"nice":false,"zero":false}},
"text":{"field":"lab","type":"nominal"},"angle":{"field":"t","type":"quantitative","scale":{"domain":[0,360],"range":[180,540]}}}},
{"data":{"name":"sd"},"transform":[{"filter":"datum.ring=='H'"}],"mark":{"type":"text","font":"Liberation Serif","fontSize":20,"color":"#000000","align":"center","baseline":"middle"},
"encoding":{"theta":{"field":"t","type":"quantitative","stack":null,"scale":{"domain":[0,360],"range":[0,6.283185307179586],"nice":false,"zero":false}},
"radius":{"field":"rl","type":"quantitative","scale":{"type":"linear","domain":[0,1,2,3,4,5],"range":[0,44,99,140,189,212],"nice":false,"zero":false}},
"text":{"field":"lab","type":"nominal"}}},
{"data":{"name":"spiral"},"mark":{"type":"line","interpolate":"catmull-rom","strokeDash":[4,3],"color":"#000000","strokeWidth":1},
"encoding":{"x":{"field":"dx","type":"quantitative","scale":{"domain":[-223,223],"nice":false,"zero":false},"axis":null},"y":{"field":"dy","type":"quantitative","scale":{"domain":[-230,230],"reverse":true,"nice":false,"zero":false},"axis":null},"order":{"field":"i","type":"quantitative"}}},
{"data":{"name":"ad"},"mark":{"type":"line","interpolate":"catmull-rom","strokeDash":[3,3],"color":"#000000","strokeWidth":1},
"encoding":{"x":{"field":"dx","type":"quantitative","scale":{"domain":[-223,223],"nice":false,"zero":false},"axis":null},"y":{"field":"dy","type":"quantitative","scale":{"domain":[-230,230],"reverse":true,"nice":false,"zero":false},"axis":null},"order":{"field":"i","type":"quantitative"},"detail":{"field":"seg","type":"nominal"}}},
{"data":{"name":"ad"},"transform":[{"filter":"datum.h==1"}],"mark":{"type":"point","shape":"M0,1L-0.75,-1L0,-0.45L0.75,-1Z","filled":true,"color":"#000000","opacity":1,"size":100,"strokeWidth":0},
"encoding":{"x":{"field":"dx","type":"quantitative","scale":{"domain":[-223,223],"nice":false,"zero":false},"axis":null},"y":{"field":"dy","type":"quantitative","scale":{"domain":[-230,230],"reverse":true,"nice":false,"zero":false},"axis":null},"angle":{"field":"t","type":"quantitative","scale":{"domain":[0,360],"range":[-90,270]}}}},
{"data":{"values":[{"lab":"(D)","dx":-188,"dy":212}]},"mark":{"type":"text","font":"Liberation Sans","fontWeight":"bold","fontSize":24,"color":"#000000"},
"encoding":{"x":{"field":"dx","type":"quantitative","scale":{"domain":[-223,223],"nice":false,"zero":false},"axis":null},"y":{"field":"dy","type":"quantitative","scale":{"domain":[-230,230],"reverse":true,"nice":false,"zero":false},"axis":null},"text":{"field":"lab","type":"nominal"}}}
]
}
]
}
